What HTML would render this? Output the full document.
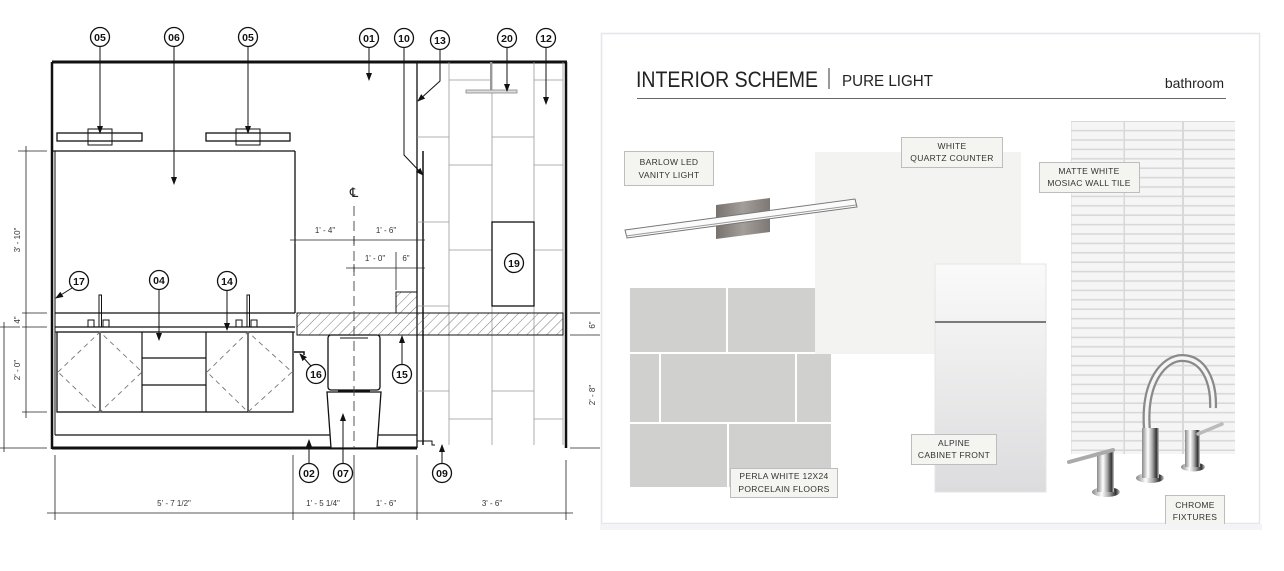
<!DOCTYPE html>
<html><head><meta charset="utf-8"><style>
html,body{margin:0;padding:0;background:#fff;}
svg{display:block;font-family:"Liberation Sans",sans-serif;}
.c circle{fill:#fff;stroke:#111;stroke-width:1.3}
.c text{font-size:10.5px;font-weight:bold;text-anchor:middle;fill:#111}
.d{font-size:8px;fill:#333}
.lbl rect{fill:#f4f4f1;stroke:#bdbdbd;stroke-width:1}
.lbl text{font-size:8.5px;text-anchor:middle;fill:#333;letter-spacing:.3px}
</style></head><body>
<svg width="1284" height="571" viewBox="0 0 1284 571" xmlns="http://www.w3.org/2000/svg">
<defs>
<pattern id="h" width="7" height="7" patternUnits="userSpaceOnUse" patternTransform="rotate(45)">
<line x1="0" y1="0" x2="0" y2="7" stroke="#555" stroke-width="0.8"/></pattern>
<marker id="a" markerWidth="8" markerHeight="8" refX="7" refY="4" orient="auto" markerUnits="userSpaceOnUse"><path d="M0,1 L8,4 L0,7z" fill="#111"/></marker>
<linearGradient id="ch" x1="0" x2="1"><stop offset="0" stop-color="#888"/><stop offset=".35" stop-color="#fff"/><stop offset=".6" stop-color="#aaa"/><stop offset=".85" stop-color="#333"/><stop offset="1" stop-color="#ccc"/></linearGradient>
<linearGradient id="cab" x1="0" y1="0" x2="0" y2="1"><stop offset="0" stop-color="#fafafa"/><stop offset="1" stop-color="#dcdcde"/></linearGradient>
<linearGradient id="br" x1="0" x2="1"><stop offset="0" stop-color="#77726e"/><stop offset=".5" stop-color="#a39e99"/><stop offset="1" stop-color="#7d7873"/></linearGradient>
<pattern id="tile" width="164" height="9.4" patternUnits="userSpaceOnUse" x="1071" y="121">
<rect width="164" height="9.4" fill="#d8d8d8"/>
<rect x="0.5" y="1" width="52" height="7.8" fill="#f5f5f5"/>
<rect x="54" y="1" width="57" height="7.8" fill="#f5f5f5"/>
<rect x="113" y="1" width="51" height="7.8" fill="#f5f5f5"/>
</pattern>
</defs>

<!-- LEFT ELEVATION -->
<g stroke="#111" fill="none">
<line x1="52" y1="62" x2="567" y2="62" stroke-width="3"/>
<line x1="52" y1="62" x2="52" y2="449" stroke-width="2.5"/>
<line x1="566" y1="62" x2="566" y2="448" stroke-width="2.5"/>
<line x1="52" y1="448" x2="417" y2="448" stroke-width="3"/>
<line x1="52" y1="151" x2="295" y2="151" stroke-width="1.3"/>
<line x1="55" y1="151" x2="55" y2="435" stroke-width="1"/>
<line x1="295" y1="151" x2="295" y2="313" stroke-width="1.3"/>
<rect x="57" y="133" width="85" height="8" stroke-width="1.3"/>
<rect x="88" y="129" width="24" height="16" stroke-width="1"/>
<rect x="206" y="133" width="84" height="8" stroke-width="1.3"/>
<rect x="236" y="129" width="24" height="16" stroke-width="1"/>
<line x1="417" y1="62" x2="417" y2="448" stroke-width="1.3"/>
<line x1="423" y1="151" x2="423" y2="445" stroke-width="1.5"/>
<g stroke="#999" stroke-width="0.8">
<line x1="449" y1="62" x2="449" y2="445"/>
<line x1="492" y1="62" x2="492" y2="445"/>
<line x1="534" y1="62" x2="534" y2="445"/>
<line x1="563" y1="62" x2="563" y2="445"/>
<line x1="417" y1="137" x2="449" y2="137"/><line x1="417" y1="222" x2="449" y2="222"/><line x1="417" y1="306" x2="449" y2="306"/>
<line x1="417" y1="391" x2="449" y2="391"/>
<line x1="449" y1="80" x2="492" y2="80"/><line x1="449" y1="165" x2="492" y2="165"/><line x1="449" y1="250" x2="492" y2="250"/><line x1="449" y1="419" x2="492" y2="419"/>
<line x1="492" y1="137" x2="534" y2="137"/><line x1="492" y1="391" x2="534" y2="391"/>
<line x1="534" y1="80" x2="563" y2="80"/><line x1="534" y1="165" x2="563" y2="165"/><line x1="534" y1="250" x2="563" y2="250"/><line x1="534" y1="419" x2="563" y2="419"/>
</g>
<rect x="492" y="222" width="42" height="84" fill="#fff" stroke-width="1.3"/>
<line x1="491" y1="62" x2="491" y2="91" stroke="#999" stroke-width="2"/>
<rect x="466" y="90" width="51" height="3" fill="#ddd" stroke="#888" stroke-width="0.8"/>
<line x1="55" y1="313" x2="295" y2="313" stroke-width="1.3"/>
<line x1="55" y1="327" x2="295" y2="327" stroke-width="1.3"/>
<line x1="55" y1="332" x2="295" y2="332" stroke-width="1"/>
<rect x="57" y="332" width="236" height="80" stroke-width="1.3"/>
<line x1="100" y1="332" x2="100" y2="412" stroke-width="1.2"/>
<line x1="142" y1="332" x2="142" y2="412" stroke-width="1.2"/>
<line x1="206" y1="332" x2="206" y2="412" stroke-width="1.2"/>
<line x1="248" y1="332" x2="248" y2="412" stroke-width="1.2"/>
<line x1="142" y1="358" x2="206" y2="358" stroke-width="1.2"/>
<line x1="142" y1="385" x2="206" y2="385" stroke-width="1.2"/>
<g stroke="#777" stroke-dasharray="5,4" stroke-width="0.9">
<path d="M58,372 L100,332 L142,372 L100,412 Z"/>
<path d="M207,372 L248,332 L292,372 L248,412 Z"/>
</g>
<g stroke-width="1"><rect x="99" y="295" width="2.5" height="32"/><rect x="247" y="295" width="2.5" height="32"/>
<rect x="88" y="320" width="6" height="7"/><rect x="103" y="320" width="6" height="7"/>
<rect x="236" y="320" width="6" height="7"/><rect x="251" y="320" width="6" height="7"/></g>
<path d="M294,352 h10 v3" stroke-width="1.5"/>
<line x1="55" y1="435" x2="417" y2="435" stroke-width="1.2"/>
<path d="M417,441 h15 v4 h3" stroke-width="1"/>
<rect x="297" y="313" width="266" height="22" fill="url(#h)" stroke-width="1"/>
<rect x="396" y="292" width="21" height="21" fill="url(#h)" stroke-width="1"/>
<rect x="328" y="335" width="52" height="55" rx="3" fill="#fff" stroke-width="1.3"/>
<line x1="340" y1="338" x2="368" y2="338" stroke-width="1"/>
<path d="M327,392 L381,392 L377,448 L331,448 Z" fill="#fff" stroke-width="1.3"/>
<line x1="338" y1="391" x2="370" y2="391" stroke-width="2"/>
<line x1="354" y1="206" x2="354" y2="448" stroke="#444" stroke-width="0.9" stroke-dasharray="10,5"/>
</g>
<text x="354" y="197" font-size="13" text-anchor="middle" fill="#222">℄</text>

<g stroke="#222" stroke-width="0.8" fill="none">
<line x1="290" y1="240" x2="425" y2="240"/>
<line x1="295" y1="236" x2="295" y2="244"/><line x1="354" y1="236" x2="354" y2="244"/><line x1="423" y1="236" x2="423" y2="244"/>
<line x1="346" y1="268" x2="425" y2="268"/>
<line x1="354" y1="264" x2="354" y2="272"/><line x1="396" y1="252" x2="396" y2="290"/><line x1="423" y1="264" x2="423" y2="272"/>
<line x1="47" y1="513" x2="573" y2="513"/>
<line x1="55" y1="455" x2="55" y2="520"/><line x1="293" y1="455" x2="293" y2="520"/><line x1="354" y1="455" x2="354" y2="520"/><line x1="417" y1="455" x2="417" y2="520"/><line x1="566" y1="460" x2="566" y2="520"/>
<line x1="26" y1="146" x2="26" y2="418"/>
<line x1="18" y1="151" x2="47" y2="151"/><line x1="22" y1="313" x2="47" y2="313"/><line x1="22" y1="327" x2="47" y2="327"/><line x1="22" y1="412" x2="47" y2="412"/>
<line x1="4" y1="322" x2="4" y2="452"/>
<line x1="0" y1="327" x2="20" y2="327"/><line x1="0" y1="448" x2="47" y2="448"/>
<line x1="570" y1="313" x2="600" y2="313"/><line x1="570" y1="335" x2="600" y2="335"/><line x1="570" y1="448" x2="600" y2="448"/>
</g>
<g class="d" text-anchor="middle">
<text x="325" y="233">1' - 4"</text><text x="386" y="233">1' - 6"</text>
<text x="375" y="261">1' - 0"</text><text x="406" y="261">6"</text>
<text x="174" y="506">5' - 7 1/2"</text><text x="323" y="506">1' - 5 1/4"</text><text x="386" y="506">1' - 6"</text><text x="492" y="506">3' - 6"</text>
<text transform="translate(20,240) rotate(-90)">3' - 10"</text>
<text transform="translate(20,320) rotate(-90)">4"</text>
<text transform="translate(20,370) rotate(-90)">2' - 0"</text>
<text transform="translate(595,325) rotate(-90)">6"</text>
<text transform="translate(595,395) rotate(-90)">2' - 8"</text>
</g>

<g stroke="#111" stroke-width="1" fill="none" marker-end="url(#a)">
<line x1="100" y1="46" x2="100" y2="133"/>
<line x1="174" y1="46" x2="174" y2="184"/>
<line x1="248" y1="46" x2="248" y2="133"/>
<line x1="369" y1="47" x2="369" y2="80"/>
<polyline points="404,47 404,155 423,175"/>
<polyline points="440,49 440,81 418,101"/>
<line x1="507" y1="47" x2="507" y2="91"/>
<line x1="546" y1="47" x2="546" y2="104"/>
<line x1="72" y1="288" x2="56" y2="298"/>
<line x1="159" y1="289" x2="159" y2="340"/>
<line x1="227" y1="290" x2="227" y2="330"/>
<line x1="311" y1="366" x2="300" y2="354"/>
<line x1="402" y1="365" x2="402" y2="336"/>
<line x1="309" y1="464" x2="309" y2="440"/>
<line x1="343" y1="464" x2="343" y2="414"/>
<line x1="442" y1="464" x2="442" y2="445"/>
</g>
<g class="c">
<circle cx="100" cy="37" r="9.5"/><text x="100" y="41">05</text>
<circle cx="174" cy="37" r="9.5"/><text x="174" y="41">06</text>
<circle cx="248" cy="37" r="9.5"/><text x="248" y="41">05</text>
<circle cx="369" cy="38" r="9.5"/><text x="369" y="42">01</text>
<circle cx="404" cy="38" r="9.5"/><text x="404" y="42">10</text>
<circle cx="440" cy="40" r="9.5"/><text x="440" y="44">13</text>
<circle cx="507" cy="38" r="9.5"/><text x="507" y="42">20</text>
<circle cx="546" cy="38" r="9.5"/><text x="546" y="42">12</text>
<circle cx="79" cy="281" r="9.5"/><text x="79" y="285">17</text>
<circle cx="159" cy="280" r="9.5"/><text x="159" y="284">04</text>
<circle cx="227" cy="281" r="9.5"/><text x="227" y="285">14</text>
<circle cx="316" cy="374" r="9.5"/><text x="316" y="378">16</text>
<circle cx="402" cy="374" r="9.5"/><text x="402" y="378">15</text>
<circle cx="514" cy="263" r="9.5"/><text x="514" y="267">19</text>
<circle cx="309" cy="473" r="9.5"/><text x="309" y="477">02</text>
<circle cx="343" cy="473" r="9.5"/><text x="343" y="477">07</text>
<circle cx="442" cy="473" r="9.5"/><text x="442" y="477">09</text>
</g>

<!-- RIGHT BOARD -->
<rect x="601.5" y="33.5" width="658" height="490" fill="#fff" stroke="#e6e6ea" stroke-width="1.5"/>
<text x="636" y="87" font-size="22" fill="#222" textLength="182" lengthAdjust="spacingAndGlyphs">INTERIOR SCHEME</text>
<line x1="829" y1="68" x2="829" y2="89" stroke="#333" stroke-width="1"/>
<text x="842" y="86" font-size="16" fill="#222" textLength="91" lengthAdjust="spacingAndGlyphs">PURE LIGHT</text>
<text x="1224" y="88" font-size="14" fill="#222" text-anchor="end">bathroom</text>
<line x1="637" y1="98.5" x2="1226" y2="98.5" stroke="#666" stroke-width="1"/>

<rect x="1071" y="121" width="164" height="333" fill="url(#tile)"/>
<g fill="#d0d0ce">
<rect x="630" y="288" width="96" height="64"/><rect x="728" y="288" width="103" height="64"/>
<rect x="630" y="354" width="29" height="68"/><rect x="661" y="354" width="134" height="68"/><rect x="797" y="354" width="34" height="68"/>
<rect x="630" y="424" width="97" height="63"/><rect x="729" y="424" width="102" height="63"/>
</g>
<rect x="815" y="152" width="206" height="202" fill="#f3f3f2"/>
<rect x="935" y="264" width="111" height="228" fill="url(#cab)" stroke="#e4e4e4"/>
<line x1="935" y1="322" x2="1046" y2="322" stroke="#555" stroke-width="1.5"/>
<!-- vanity light -->
<polygon points="716,205 770,198 770,232 716,239" fill="url(#br)"/>
<polygon points="625,230 855,199 857,207 627,238" fill="#fbfbfb" stroke="#777" stroke-width="1"/>
<line x1="626" y1="236" x2="856" y2="205" stroke="#999" stroke-width="1"/>
<!-- faucets -->
<path d="M1147,430 C1143,380 1165,358 1182,358 C1203,358 1214,380 1213,408" fill="none" stroke="#8a8a8a" stroke-width="8"/>
<path d="M1147,430 C1143,380 1165,358 1182,358 C1203,358 1214,380 1213,408" fill="none" stroke="#f5f5f5" stroke-width="3.5"/>
<ellipse cx="1150" cy="478" rx="14" ry="5" fill="url(#ch)"/>
<rect x="1142" y="428" width="17" height="50" fill="url(#ch)"/>
<ellipse cx="1106" cy="492" rx="14" ry="5" fill="url(#ch)"/>
<rect x="1097" y="452" width="17" height="40" fill="url(#ch)"/>
<line x1="1069" y1="462" x2="1113" y2="450" stroke="#aaa" stroke-width="4" stroke-linecap="round"/>
<ellipse cx="1193" cy="467" rx="12" ry="4.5" fill="url(#ch)"/>
<rect x="1185" y="430" width="15" height="37" fill="url(#ch)"/>
<line x1="1198" y1="434" x2="1222" y2="424" stroke="#bbb" stroke-width="3.5" stroke-linecap="round"/>

<g class="lbl">
<rect x="624.5" y="151.5" width="89" height="34"/><text x="669" y="165">BARLOW LED</text><text x="669" y="178">VANITY LIGHT</text>
<rect x="901.5" y="137.5" width="101" height="30"/><text x="952" y="149" font-size="8">WHITE</text><text x="952" y="161" font-size="8">QUARTZ COUNTER</text>
<rect x="1039.5" y="162.5" width="100" height="30"/><text x="1089" y="174" font-size="8">MATTE WHITE</text><text x="1089" y="186" font-size="8">MOSIAC WALL TILE</text>
<rect x="911.5" y="434.5" width="85" height="30"/><text x="954" y="446" font-size="8">ALPINE</text><text x="954" y="458" font-size="8">CABINET FRONT</text>
<rect x="730.5" y="468.5" width="107" height="29"/><text x="784" y="479" font-size="8">PERLA WHITE 12X24</text><text x="784" y="492" font-size="8">PORCELAIN FLOORS</text>
<rect x="1165.5" y="495.5" width="59" height="30"/><text x="1195" y="508" font-size="8">CHROME</text><text x="1195" y="520" font-size="8">FIXTURES</text>
</g>
<rect x="600" y="524" width="662" height="6" fill="#f4f4f6"/>
</svg>
</body></html>
